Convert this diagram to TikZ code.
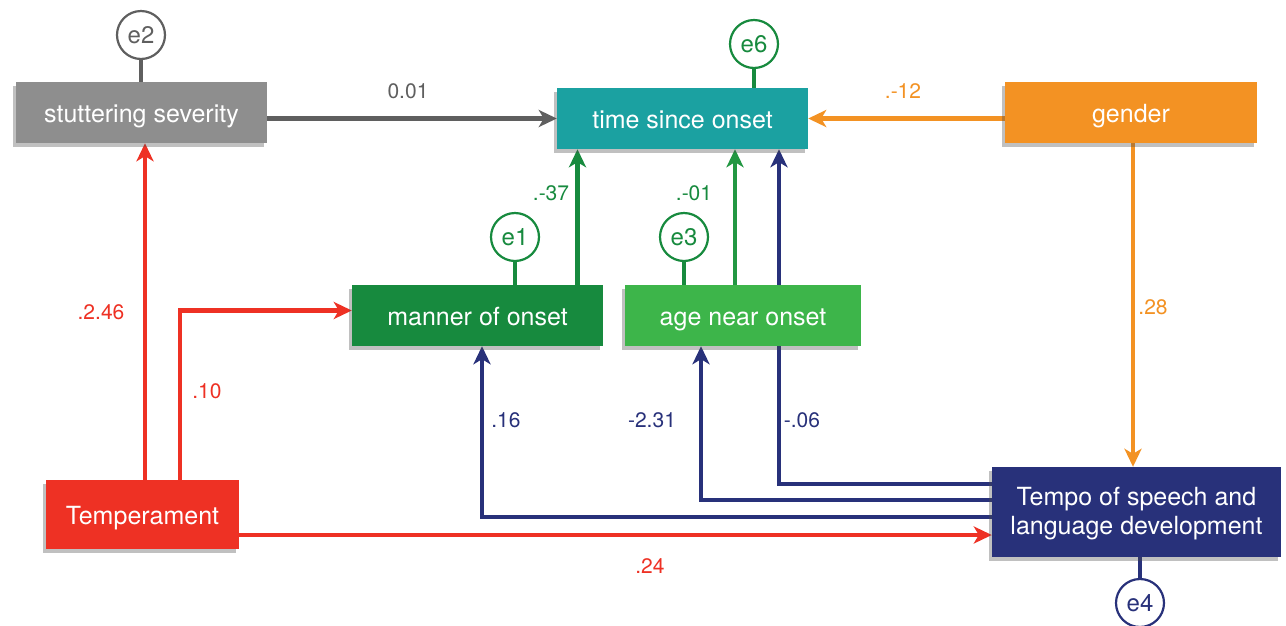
\documentclass[tikz,border=0pt]{standalone}
\usepackage{fontspec}
\setmainfont{TeX Gyre Heros}
\usetikzlibrary{arrows.meta,shadows,backgrounds,calc}
\definecolor{cgray}{HTML}{8E8E8E}
\definecolor{cdgray}{HTML}{5F5F5F}
\definecolor{cteal}{HTML}{1BA1A1}
\definecolor{corange}{HTML}{F39223}
\definecolor{cdgreen}{HTML}{178A3E}
\definecolor{clgreen}{HTML}{3DB54A}
\definecolor{cred}{HTML}{EE3124}
\definecolor{cnavy}{HTML}{28317A}
\tikzset{
  box/.style={rectangle, draw=none, text=white, font=\fontsize{25}{29}\selectfont,
    inner sep=0pt, align=center,
    drop shadow={shadow xshift=-3pt, shadow yshift=-4pt, opacity=0.35, fill=black!70}},
  onebox/.style={box, text height=19pt, text depth=0pt},
  err/.style={circle, draw=#1, line width=2.2pt, fill=white, text=#1, minimum size=48pt, inner sep=0pt,
    font=\fontsize{24}{28}\selectfont},
  conn/.style={draw=#1, line width=4.5pt, -{Stealth[length=18pt,width=17pt,inset=5pt]}},
  eline/.style={draw=#1, line width=4.5pt},
  lab/.style={text=#1, font=\fontsize{21}{24}\selectfont, inner sep=0pt}
}
\begin{document}
\begin{tikzpicture}[x=1pt,y=-1pt]
\useasboundingbox (0,0) rectangle (1286,625);
% boxes
\node[onebox, fill=cgray, minimum width=251pt, minimum height=61pt] (stut) at (141.5,112.5) {stuttering severity};
\node[onebox, fill=cteal, minimum width=251pt, minimum height=61pt] (time) at (682.5,118.5) {time since onset};
\node[onebox, fill=corange, minimum width=252pt, minimum height=61pt] (gender) at (1131,112.5) {gender};
\node[onebox, fill=cdgreen, minimum width=251pt, minimum height=61pt] (manner) at (477.5,315.5) {manner of onset};
\node[onebox, fill=clgreen, minimum width=236pt, minimum height=61pt] (age) at (743,315.5) {age near onset};
\node[onebox, fill=cred, minimum width=193pt, minimum height=69pt] (temp) at (142.5,514.5) {Temperament};
\node[box, fill=cnavy, minimum width=289pt, minimum height=90pt] (tempo) at (1136.5,512) {\rule{0pt}{22pt}Tempo of speech and\\language development};
% error terms
\node[err=cdgray] (e2) at (141,35) {e2};
\node[err=cdgreen] (e6) at (754,44) {e6};
\node[err=cdgreen] (e1) at (515,237) {e1};
\node[err=cdgreen] (e3) at (684,237) {e3};
\node[err=cnavy] (e4) at (1140,603) {e4};
\begin{pgfonlayer}{background}
\fill[white] (0,0) rectangle (1286,625);
\draw[eline=cdgray] (e2) -- (e2 |- stut.north);
\draw[eline=cdgreen] (e6) -- (e6 |- time.north);
\draw[eline=cdgreen] (e1) -- (e1 |- manner.north);
\draw[eline=cdgreen] (e3) -- (e3 |- age.north);
\draw[eline=cnavy] (e4) -- (e4 |- tempo.south);
% connectors
\draw[conn=cdgray] (stut.east |- time.west) -- (time.west);
\draw[conn=corange] (gender.west |- time.east) -- (time.east);
\draw[conn=corange] ([xshift=2pt]gender.south) -- ([xshift=2pt]gender.south |- tempo.north);
\draw[conn=cred] ([xshift=2.5pt]temp.north) -- ([xshift=2.5pt]temp.north |- stut.south);
\draw[conn=cred] ([xshift=37.5pt]temp.north) |- ([yshift=5pt]manner.west);
\draw[conn=cred] ([yshift=-20.5pt]temp.east) -- ([yshift=-20.5pt]temp.east -| tempo.west);
\draw[conn=cdgreen] ([xshift=100pt]manner.north) -- ([xshift=100pt]manner.north |- time.south);
\draw[conn=cdgreen!70!clgreen] ([xshift=-8pt]age.north) -- ([xshift=-8pt]age.north |- time.south);
\draw[conn=cnavy] ([yshift=28pt]tempo.west) -| ([xshift=96.5pt]time.south);
\draw[conn=cnavy] ([yshift=12pt]tempo.west) -| ([xshift=-42pt]age.south);
\draw[conn=cnavy] ([yshift=-5pt]tempo.west) -| ([xshift=4.5pt]manner.south);
\end{pgfonlayer}
% labels
\node[lab=cdgray] (l1) at (408,91) {0.01};
\node[lab=corange] (l2) at (903,91) {.-12};
\node[lab=corange] (l3) at (1153,307) {.28};
\node[lab=cred] (l4) at (101,312) {.2.46};
\node[lab=cred] (l5) at (207,391) {.10};
\node[lab=cred] (l6) at (650,566) {.24};
\node[lab=cdgreen] (l7) at (551,193) {.-37};
\node[lab=cdgreen] (l8) at (694,193) {.-01};
\node[lab=cnavy] (l9) at (506,420) {.16};
\node[lab=cnavy] (l10) at (652,420) {-2.31};
\node[lab=cnavy] (l11) at (802,420) {-.06};
\end{tikzpicture}
\end{document}
